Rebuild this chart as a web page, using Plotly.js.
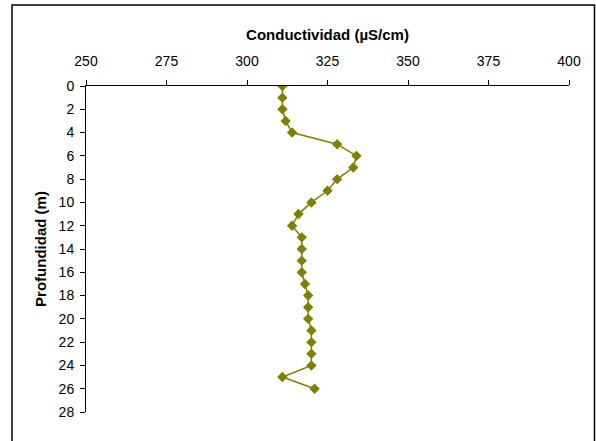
<!DOCTYPE html>
<html>
<head>
<meta charset="utf-8">
<script src="https://cdn.plot.ly/plotly-3.0.1.min.js"></script>
<style>
html, body { margin: 0; padding: 0; background: #ffffff; }
#chart { width: 596px; height: 441px; }
</style>
</head>
<body>
<div id="chart"></div>
<script>
// Data
const depth = [0, 1, 2, 3, 4, 5, 6, 7, 8, 9, 10, 11, 12, 13, 14, 15, 16, 17, 18, 19, 20, 21, 22, 23, 24, 25, 26];
const conductividad = [311, 311, 311, 312, 314, 328, 334, 333, 328, 325, 320, 316, 314, 317, 317, 317, 317, 318, 319, 319, 319, 320, 320, 320, 320, 311, 321];
const xTicks = [250, 275, 300, 325, 350, 375, 400];
const yTicks = [0, 2, 4, 6, 8, 10, 12, 14, 16, 18, 20, 22, 24, 26, 28];
const xTitle = 'Conductividad (µS/cm)';
const yTitle = 'Profundidad (m)';

const FONT = '"Liberation Sans", Arial, sans-serif';
const olive = '#808000';

const trace = {
  x: conductividad,
  y: depth,
  type: 'scatter',
  mode: 'lines+markers',
  line: { color: olive, width: 1.5 },
  marker: { symbol: 'diamond', size: 8, color: olive },
  hoverinfo: 'x+y'
};

const layout = {
  width: 596,
  height: 441,
  margin: { l: 86, r: 27, t: 86, b: 29 },
  paper_bgcolor: '#ffffff',
  plot_bgcolor: '#ffffff',
  showlegend: false,
  font: { family: FONT, size: 14, color: '#000000' },
  xaxis: {
    side: 'top',
    range: [250, 400],
    tickvals: xTicks,
    ticktext: xTicks.map(String),
    ticks: 'outside',
    ticklen: 5,
    tickwidth: 1,
    tickcolor: '#000000',
    showline: true,
    linecolor: '#000000',
    linewidth: 1,
    showgrid: false,
    zeroline: false,
    ticklabelstandoff: 8,
    tickfont: { family: FONT, size: 14, color: '#000000' },
    title: { text: '<b>' + xTitle + '</b>', font: { family: FONT, size: 15, color: '#000000' }, standoff: 9 }
  },
  yaxis: {
    range: [28, 0],
    tickvals: yTicks,
    ticktext: yTicks.map(String),
    ticks: 'outside',
    ticklen: 5,
    tickwidth: 1,
    tickcolor: '#000000',
    showline: true,
    linecolor: '#000000',
    linewidth: 1,
    showgrid: false,
    zeroline: false,
    ticklabelstandoff: 3,
    tickfont: { family: FONT, size: 14, color: '#000000' },
    title: { text: '<b>' + yTitle + '</b>', font: { family: FONT, size: 15, color: '#000000' }, standoff: 8 }
  },
  shapes: [{
    type: 'rect',
    xref: 'paper', yref: 'paper',
    x0: -0.1532, x1: 1.0528,
    y0: -0.2, y1: 1.2485,
    line: { color: '#000000', width: 1.5 },
    fillcolor: 'rgba(0,0,0,0)',
    layer: 'below'
  }]
};

Plotly.newPlot('chart', [trace], layout, { displayModeBar: false, staticPlot: true });
</script>
</body>
</html>
